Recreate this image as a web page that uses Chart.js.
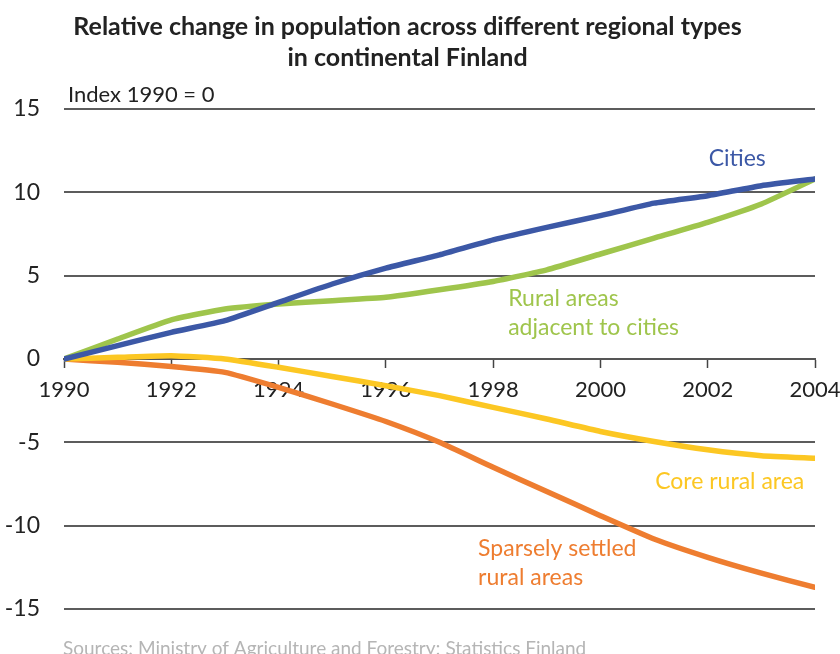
<!DOCTYPE html>
<html>
<head>
<meta charset="utf-8">
<script src="https://cdn.jsdelivr.net/npm/chart.js@4.4.1/dist/chart.umd.min.js"></script>
<style>
  html, body { margin: 0; padding: 0; background: #fff; }
  canvas { display: block; }
</style>
</head>
<body>
<canvas id="pop-chart" width="840" height="654"></canvas>
<script>
const popChart = document.getElementById("pop-chart");

// years 1990-2004, index 1990 = 0
const years = [1990, 1991, 1992, 1993, 1994, 1995, 1996, 1997, 1998, 1999, 2000, 2001, 2002, 2003, 2004];
const yTicks = [-15, -10, -5, 0, 5, 10, 15];

const cities = [0, 0.8, 1.6, 2.3, 3.4, 4.5, 5.45, 6.25, 7.15, 7.9, 8.6, 9.35, 9.8, 10.4, 10.8];
const adjacentRural = [0, 1.2, 2.35, 3.0, 3.3, 3.5, 3.7, 4.15, 4.65, 5.35, 6.3, 7.25, 8.2, 9.3, 10.8];
const coreRural = [0, 0.1, 0.2, 0.0, -0.5, -1.05, -1.6, -2.2, -2.9, -3.6, -4.35, -4.95, -5.45, -5.8, -5.95];
const sparseRural = [0, -0.2, -0.45, -0.8, -1.7, -2.7, -3.75, -5.0, -6.5, -7.95, -9.4, -10.8, -11.9, -12.85, -13.7];

const seriesNames = ["Cities", "Rural areas adjacent to cities", "Core rural area", "Sparsely settled rural areas"];
const seriesColors = ["#3c58a6", "#9fc54c", "#fcc723", "#ee7d30"];

// series labels, placed in data coordinates
const seriesLabels = [
    { lines: ["Cities"], x: 2002.55, y: 12.0, align: "center", color: seriesColors[0] },
    { lines: ["Rural areas", "adjacent to cities"], x: 1998.28, y: 3.65, align: "left", color: seriesColors[1] },
    { lines: ["Core rural area"], x: 2001.02, y: -7.35, align: "left", color: seriesColors[2] },
    { lines: ["Sparsely settled", "rural areas"], x: 1997.72, y: -11.4, align: "left", color: seriesColors[3] }
];

const allSeries = [cities, adjacentRural, coreRural, sparseRural];

const textPlugin = {
    id: "textPlugin",
    afterDraw(chart) {
        const ctx = chart.ctx;
        const xs = chart.scales.x;
        const ys = chart.scales.y;
        ctx.save();
        ctx.textBaseline = "middle";
        ctx.font = "23px Lato";
        seriesLabels.forEach(l => {
            ctx.fillStyle = l.color;
            ctx.textAlign = l.align;
            l.lines.forEach((t, i) => {
                ctx.fillText(t, xs.getPixelForValue(l.x), ys.getPixelForValue(l.y) + i * 29);
            });
        });
        // unit note above the plot
        ctx.fillStyle = "#222";
        ctx.textAlign = "left";
        ctx.font = "22px Lato";
        ctx.fillText("Index 1990 = 0", chart.chartArea.left + 4, chart.chartArea.top - 14);
        // source line
        ctx.fillStyle = "#b5b5b5";
        ctx.font = "19px Lato";
        ctx.fillText("Sources: Ministry of Agriculture and Forestry; Statistics Finland", chart.chartArea.left - 1, chart.chartArea.bottom + 40);
        ctx.restore();
    }
};

const myChart = new Chart(popChart, {
    type: 'line',
    data: {
        datasets: allSeries.map((s, i) => ({
            label: seriesNames[i],
            data: s.map((v, j) => ({ x: years[j], y: v })),
            borderColor: seriesColors[i],
            backgroundColor: seriesColors[i],
            borderWidth: 5.5,
            borderCapStyle: 'round',
            borderJoinStyle: 'round',
            pointRadius: 0,
            tension: 0.15,
            fill: false
        }))
    },
    options: {
        responsive: false,
        animation: false,
        layout: {
            padding: { left: 0, right: 25, top: 0, bottom: 45 }
        },
        scales: {
            x: {
                type: 'linear',
                position: { y: 0 },
                min: 1990,
                max: 2004,
                afterFit: scale => { scale.paddingLeft = 0; scale.paddingRight = 0; },
                grid: {
                    drawOnChartArea: false,
                    drawTicks: true,
                    tickLength: 8,
                    tickWidth: 1.5,
                    tickColor: "#444"
                },
                border: { display: true, color: "#555", width: 2 },
                ticks: {
                    stepSize: 2,
                    padding: 10,
                    color: "#222",
                    font: { family: "Lato", size: 22 },
                    callback: v => String(v)
                }
            },
            y: {
                min: -15,
                max: 15,
                afterBuildTicks: axis => { axis.ticks = yTicks.map(v => ({ value: v })); },
                afterFit: scale => { scale.width = 64; },
                grid: {
                    color: "#5c5c5c",
                    lineWidth: 2,
                    drawTicks: false
                },
                border: { display: false },
                ticks: {
                    padding: 24,
                    color: "#222",
                    font: { family: "Lato", size: 23 }
                }
            }
        },
        plugins: {
            legend: { display: false },
            tooltip: { enabled: false },
            title: {
                display: true,
                text: ["Relative change in population across different regional types", "in continental Finland"],
                color: "#222",
                font: { family: "Lato", size: 25, weight: 'bold', lineHeight: 1.24 },
                padding: { top: 11, bottom: 36 }
            }
        }
    },
    plugins: [textPlugin]
});
</script>
</body>
</html>
